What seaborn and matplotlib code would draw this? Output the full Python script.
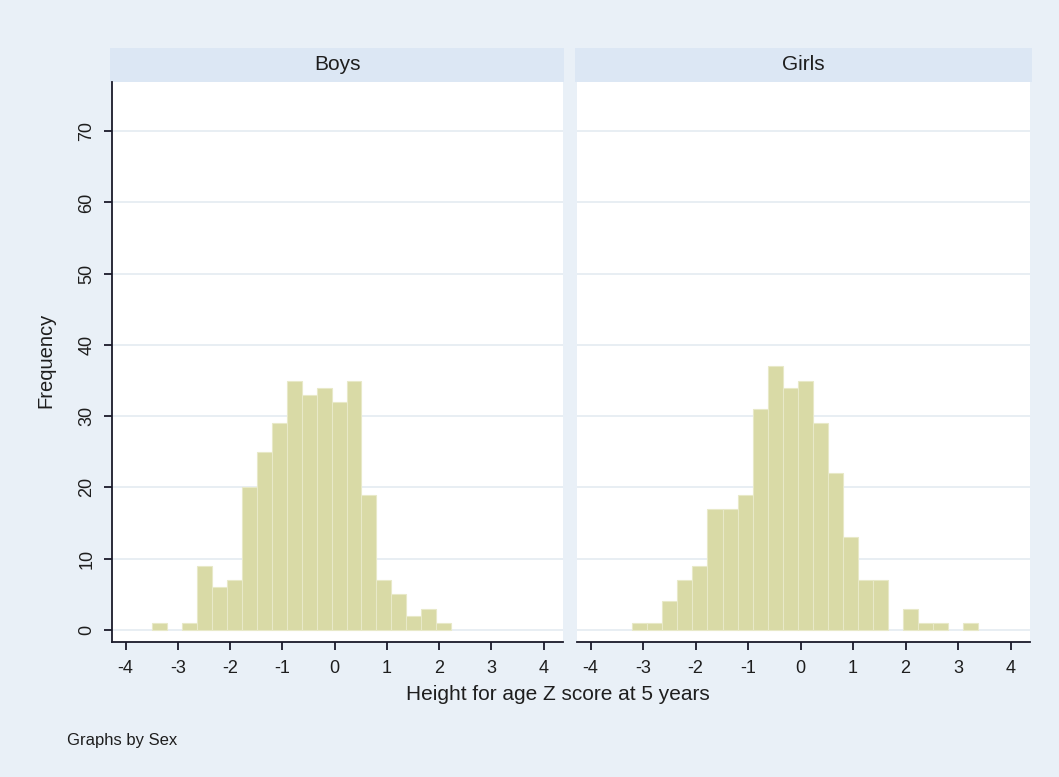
import numpy as np
import pandas as pd
import matplotlib
matplotlib.use("Agg")
import matplotlib.pyplot as plt
import seaborn as sns

# ---- data ----
bin_start = -3.49
bin_width = 0.286
boys_counts = [1, 0, 1, 9, 6, 7, 20, 25, 29, 35, 33, 34, 32, 35, 19, 7, 5, 2, 3, 1]
girls_counts = [0, 1, 1, 4, 7, 9, 17, 17, 19, 31, 37, 34, 35, 29, 22, 13, 7, 7, 0, 3, 1, 1, 0, 1]
panel_titles = ["Boys", "Girls"]
x_ticks = [-4, -3, -2, -1, 0, 1, 2, 3, 4]
y_ticks = [0, 10, 20, 30, 40, 50, 60, 70]

n_bins = 24
edges = [float(bin_start + bin_width * k) for k in range(n_bins + 1)]
centers = [(edges[k] + edges[k + 1]) / 2 for k in range(n_bins)]

def frame(counts, sex):
    c = list(counts) + [0] * (n_bins - len(counts))
    return pd.DataFrame({"z": centers, "n": c, "sex": sex})

df = pd.concat([frame(boys_counts, "Boys"), frame(girls_counts, "Girls")], ignore_index=True)

sns.set_theme(style="white")
plt.rcParams["font.family"] = ["Liberation Sans", "DejaVu Sans"]

BG = "#E9F0F7"
STRIP = "#DCE7F4"
BAR = "#D9DAA6"
GRID = "#E4EBF1"
AX = "#1a1a2a"
TXT = "#1e1e1e"

fig = plt.figure(figsize=(10.59, 7.77), dpi=100)
fig.patch.set_facecolor(BG)

W, H = 1059.0, 777.0
def rect(x0, y0, x1, y1):
    return [x0 / W, 1 - y1 / H, (x1 - x0) / W, (y1 - y0) / H]

axes_px = [(112, 82, 563, 642), (577, 82, 1030, 642)]
strips_px = [(110, 48, 564, 82), (575, 48, 1032, 82)]

for i, sex in enumerate(panel_titles):
    sx = fig.add_axes(rect(*strips_px[i]))
    sx.set_facecolor(STRIP)
    for s in sx.spines.values():
        s.set_visible(False)
    sx.set_xticks([]); sx.set_yticks([])
    sx.text(0.5, 0.5, sex, ha="center", va="center", fontsize=15, color=TXT,
            transform=sx.transAxes)

    ax = fig.add_axes(rect(*axes_px[i]))
    ax.set_facecolor("white")
    sub = df[df["sex"] == sex].reset_index(drop=True)
    sns.histplot(data=sub, x="z", weights="n", bins=edges, ax=ax, stat="count",
                 color=BAR, edgecolor="#E8E9C8", linewidth=0.8, alpha=1.0, zorder=3)
    for p in ax.patches:
        if p.get_height() == 0:
            p.set_visible(False)
    ax.set_xlim(-4.26, 4.37)
    ax.set_ylim(-1.7, 76.9)
    ax.set_yticks(y_ticks)
    ax.set_xticks(x_ticks)
    ax.set_xticklabels([str(t) for t in x_ticks], fontsize=13)
    ax.grid(axis="y", color=GRID, linewidth=1.2, zorder=0)
    ax.grid(axis="x", visible=False)
    ax.set_axisbelow(True)
    for s in ["top", "right"]:
        ax.spines[s].set_visible(False)
    ax.spines["bottom"].set_color(AX)
    ax.spines["bottom"].set_linewidth(1.3)
    ax.tick_params(axis="x", direction="out", length=6, width=1.3, color=AX,
                   bottom=True, pad=7, labelcolor=TXT)
    ax.set_xlabel("")
    ax.set_ylabel("")
    if i == 0:
        ax.spines["left"].set_color(AX)
        ax.spines["left"].set_linewidth(1.3)
        ax.tick_params(axis="y", direction="out", length=6, width=1.3, color=AX,
                       left=True, pad=6, labelcolor=TXT)
        ax.set_yticklabels([str(t) for t in y_ticks], fontsize=13, rotation=90, va="center")
    else:
        ax.spines["left"].set_visible(False)
        ax.tick_params(axis="y", left=False, labelleft=False)

fig.text(46 / W, 1 - 360 / H, "Frequency", rotation=90, ha="center", va="center",
         fontsize=14.5, color=TXT)
fig.text(558 / W, 1 - 695 / H, "Height for age Z score at 5 years", ha="center", va="center",
         fontsize=15, color=TXT)
fig.text(67 / W, 1 - 740 / H, "Graphs by Sex", ha="left", va="center",
         fontsize=12, color=TXT)

fig.savefig("out.png", dpi=100, facecolor=BG)
